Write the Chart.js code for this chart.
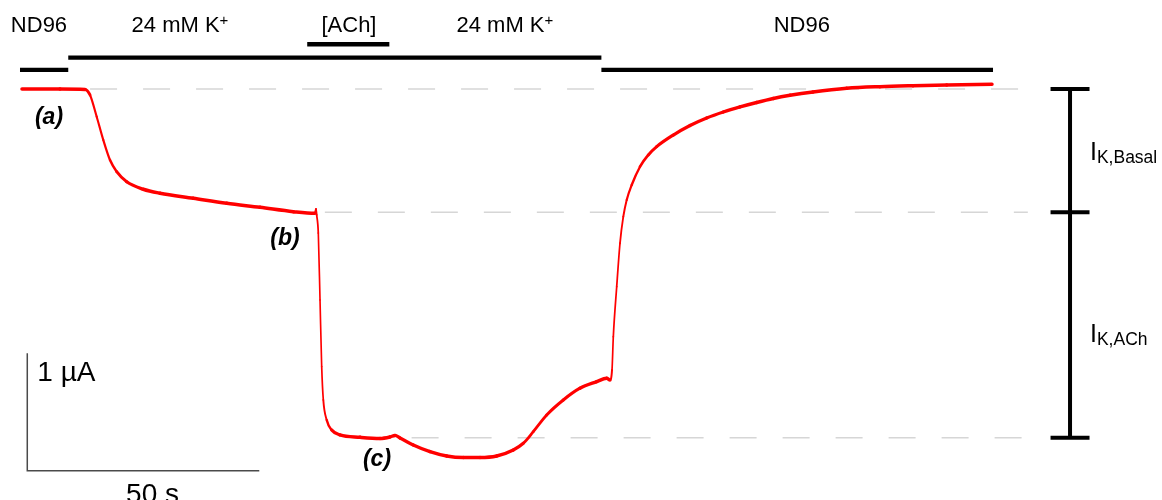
<!DOCTYPE html>
<html>
<head>
<meta charset="utf-8">
<title>IK,ACh recording</title>
<script src="https://cdn.jsdelivr.net/npm/chart.js@4/dist/chart.umd.min.js"></script>
<style>
  html, body { margin: 0; padding: 0; background: #fff; }
  canvas { display: block; }
</style>
</head>
<body>
<canvas id="trace" width="1162" height="500"></canvas>
<script>
// Two-electrode voltage clamp trace, holding current vs time
const timeS = [
    0.43, 4.31, 8.62, 14.01, 15.09, 16.53, 17.95, 19.40, 20.84, 23.00,
    26.57, 30.17, 37.35, 44.55, 51.72, 58.90, 63.58, 63.79, 63.94, 64.29,
    64.66, 65.02, 65.37, 66.10, 67.18, 68.97, 73.28, 77.59, 79.74, 80.82,
    81.90, 84.76, 88.36, 91.96, 95.54, 99.14, 102.74, 106.31, 108.47, 110.62,
    113.51, 117.09, 120.69, 124.29, 126.44, 127.16, 127.59, 127.87, 128.60, 129.31,
    130.02, 130.75, 131.83, 133.62, 135.41, 137.22, 140.80, 144.40, 147.99, 151.57,
    155.17, 158.77, 162.35, 165.95, 170.91, 178.17, 185.34, 192.46, 199.72, 209.48,
];
const currentUA = [
    0.000, 0.000, 0.000, -0.004, -0.051, -0.236, -0.434, -0.605, -0.704, -0.790,
    -0.854, -0.888, -0.931, -0.974, -1.008, -1.045, -1.059, -1.022, -1.073, -1.227,
    -1.797, -2.365, -2.649, -2.819, -2.905, -2.947, -2.967, -2.977, -2.964, -2.951,
    -2.973, -3.032, -3.089, -3.126, -3.139, -3.139, -3.126, -3.075, -3.018, -2.919,
    -2.777, -2.649, -2.549, -2.493, -2.464, -2.479, -2.394, -2.110, -1.684, -1.314,
    -1.088, -0.945, -0.818, -0.662, -0.562, -0.491, -0.392, -0.311, -0.247, -0.196,
    -0.153, -0.115, -0.081, -0.054, -0.025, 0.006, 0.020, 0.028, 0.034, 0.040,
];

// bath perfusion: ND96 -> 24 mM K+ -> ND96 (switch times, s)
const bathSwitchS = [0, 10.4, 125.3, 209.7];
// ACh application inside the high K+ period (s)
const achOnS = [61.9, 79.6];

// reference levels: (a) basal, (b) high K+, (c) high K+ + ACh (µA)
const levelUA = [0, -1.05, -2.97];
const levelStartS = [15.1, 65.7, 84.4];
const levelEndS = 217.2;

// calibration bars
const scaleBarS = 50;
const scaleBarUA = 1;

const FONT = '"Liberation Sans", Arial, sans-serif';

function seg(x0, x1, y0, y1) {
    return [{ x: x0, y: y0 }, { x: x1, y: y1 }];
}

function lineSet(data, color, width, extra) {
    return Object.assign({
        type: 'line',
        data: data,
        borderColor: color,
        borderWidth: width,
        pointRadius: 0,
        tension: 0,
        fill: false,
        borderCapStyle: 'butt',
        order: 5,
    }, extra || {});
}

const datasets = [];

// the recorded current, on top of everything
datasets.push(lineSet(
    timeS.map((t, i) => ({ x: t, y: currentUA[i] })),
    '#ff0000', 3,
    {
        order: 0,
        cubicInterpolationMode: 'monotone',
        borderCapStyle: 'round',
        borderJoinStyle: 'round',
        segment: {
            // noise band looks thinner where the trace is steep
            borderWidth: ctx => {
                const dx = Math.abs(ctx.p1.x - ctx.p0.x);
                const dy = Math.abs(ctx.p1.y - ctx.p0.y);
                const cos = dx / (Math.hypot(dx, dy) || 1);
                return 1.6 + 1.9 * cos;
            },
        },
    }
));

// dashed level guides
levelUA.forEach((v, i) => {
    datasets.push(lineSet(seg(levelStartS[i], levelEndS, v, v), '#d6d6d6', 1.5,
        { borderDash: [27, 26], order: 9 }));
});

// solution bars (row heights in µA units above the trace)
const ROW_ND96 = 0.162, ROW_K = 0.267, ROW_ACH = 0.381;
datasets.push(lineSet(seg(bathSwitchS[0], bathSwitchS[1], ROW_ND96, ROW_ND96), '#000', 4.3));
datasets.push(lineSet(seg(bathSwitchS[1], bathSwitchS[2], ROW_K, ROW_K), '#000', 4.3));
datasets.push(lineSet(seg(bathSwitchS[2], bathSwitchS[3], ROW_ND96, ROW_ND96), '#000', 4.3));
datasets.push(lineSet(seg(achOnS[0], achOnS[1], ROW_ACH, ROW_ACH), '#000', 4.3));

// current amplitude brackets on the right
const BRACKET_T = 226.3, CAP = 4.2;
datasets.push(lineSet(seg(BRACKET_T, BRACKET_T, levelUA[0], levelUA[2]), '#000', 4));
levelUA.forEach(v => {
    datasets.push(lineSet(seg(BRACKET_T - CAP, BRACKET_T + CAP, v, v), '#000', 4));
});

// calibration bars, lower left
const SB_T = 1.57, SB_V = -3.251;
datasets.push(lineSet([
    { x: SB_T, y: SB_V + scaleBarUA },
    { x: SB_T, y: SB_V },
    { x: SB_T + scaleBarS, y: SB_V },
], '#4a4a4a', 1.5, { borderJoinStyle: 'miter' }));

// text, anchored in data units
const supRun = (t) => ({ text: t, font: '15px ' + FONT, dy: -7 });
const subRun = (t) => ({ text: t, font: '17.5px ' + FONT, dy: 3 });
const headRun = (t) => ({ text: t, font: '22px ' + FONT });
const tagRun = (t) => ({ text: t, font: 'italic bold 23px ' + FONT });

const textItems = [
    { t: 4.09, v: 0.486, align: 'center', runs: [headRun('ND96')] },
    { t: 34.48, v: 0.486, align: 'center', runs: [headRun('24 mM K'), supRun('+')] },
    { t: 70.9, v: 0.486, align: 'center', runs: [headRun('[ACh]')] },
    { t: 104.5, v: 0.486, align: 'center', runs: [headRun('24 mM K'), supRun('+')] },
    { t: 168.5, v: 0.486, align: 'center', runs: [headRun('ND96')] },
    { t: 6.25, v: -0.298, align: 'center', runs: [tagRun('(a)')] },
    { t: 57.11, v: -1.329, align: 'center', runs: [tagRun('(b)')] },
    { t: 76.94, v: -3.211, align: 'center', runs: [tagRun('(c)')] },
    { t: 3.73, v: -2.485, align: 'left', runs: [{ text: '1 µA', font: '28px ' + FONT }] },
    { t: 28.56, v: -3.526, align: 'center', runs: [{ text: '50 s', font: '28px ' + FONT }] },
    { t: 230.6, v: -0.605, align: 'left', runs: [{ text: 'I', font: '25px ' + FONT }, subRun('K,Basal')] },
    { t: 230.6, v: -2.152, align: 'left', runs: [{ text: 'I', font: '25px ' + FONT }, subRun('K,ACh')] },
];

const textPlugin = {
    id: 'traceText',
    afterDatasetsDraw(chart) {
        const { ctx, scales: { x, y } } = chart;
        ctx.save();
        ctx.fillStyle = '#000';
        ctx.textBaseline = 'alphabetic';
        ctx.textAlign = 'left';
        textItems.forEach(item => {
            let w = 0;
            item.runs.forEach(r => { ctx.font = r.font; w += ctx.measureText(r.text).width; });
            let px = x.getPixelForValue(item.t);
            const py = y.getPixelForValue(item.v);
            if (item.align === 'center') px -= w / 2;
            item.runs.forEach(r => {
                ctx.font = r.font;
                ctx.fillText(r.text, px, py + (r.dy || 0));
                px += ctx.measureText(r.text).width;
            });
        });
        ctx.restore();
    },
};

new Chart(document.getElementById('trace'), {
    type: 'line',
    data: { datasets: datasets },
    options: {
        responsive: false,
        animation: false,
        devicePixelRatio: 1,
        parsing: true,
        layout: { padding: 0 },
        plugins: {
            legend: { display: false },
            tooltip: { enabled: false },
        },
        scales: {
            x: { type: 'linear', min: -4.31, max: 246.12, display: false },
            y: { type: 'linear', min: -3.501, max: 0.758, display: false },
        },
    },
    plugins: [textPlugin],
});
</script>
</body>
</html>
